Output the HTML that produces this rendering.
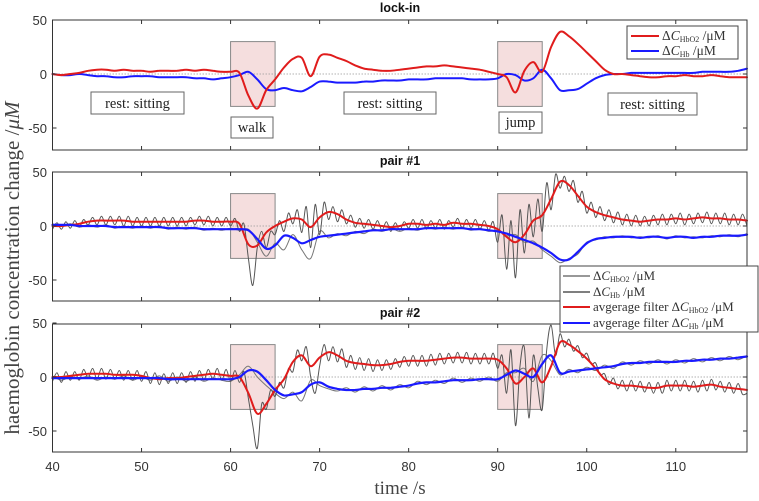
<!DOCTYPE html>
<html><head><meta charset="utf-8"><style>
html,body{margin:0;padding:0;background:#fff;}
svg{display:block;font-family:"Liberation Sans",sans-serif;}
</style></head><body>
<svg id="chart" width="759" height="501" viewBox="0 0 759 501" xmlns="http://www.w3.org/2000/svg"></svg>
<script>
const xTicks=[40,50,60,70,80,90,100,110];
const yTicks=[50,0,-50];
const tStart=40;
// lock-in, 1 s steps from 40 to 118
const lockRed=[0,-1,0,1,3,4,4,3,4,3,3,2,3,3,3,4,3,4,3,2,2,1,-20,-32,-15,-5,6,14,15,-2,16,18,15,12,8,5,4,3,3,4,5,6,7,7,8,7,6,5,4,2,0,-3,-17,3,11,2,25,39,35,28,20,12,4,0,0,-1,-2,-3,-3,-2,-2,-1,-2,-2,-1,-2,-3,-3,-3];
const lockBlue=[0,-1,-1,0,-1,-2,-2,-3,-3,-2,-2,-2,-3,-3,-3,-3,-4,-4,-5,-4,-3,-1,2,-5,-14,-15,-13,-15,-16,-12,-7,-7,-8,-8,-8,-7,-7,-6,-6,-6,-5,-5,-5,-4,-4,-4,-4,-5,-5,-5,-4,0,-1,-6,-4,4,-4,-15,-15,-14,-9,-4,-1,0,0,1,1,1,1,1,1,1,1,2,2,2,2,3,5];
// pair #1 smoothed (1 s)
const p1Red=[0,0,1,2,4,5,5,5,5,4,4,4,4,4,4,4,5,5,4,4,4,2,-17,-18,-6,0,4,7,6,-1,8,13,11,6,3,2,1,0,-1,0,2,2,1,2,1,3,2,2,1,0,-3,-10,-15,-8,5,10,25,41,38,28,18,13,10,8,6,5,4,5,6,6,7,6,7,8,7,7,6,6,5];
const p1Blue=[1,1,1,0,0,0,0,-1,-1,-1,-1,-1,-1,-2,-2,-2,-2,-3,-3,-3,-3,-3,-4,-12,-21,-18,-9,-11,-16,-13,-10,-9,-8,-7,-6,-5,-4,-4,-3,-3,-3,-3,-2,-2,-2,-2,-2,-3,-3,-4,-5,-7,-10,-13,-16,-20,-25,-31,-31,-24,-16,-12,-11,-10,-10,-10,-11,-10,-10,-11,-10,-10,-11,-10,-10,-9,-9,-9,-8];
// pair #1 raw (HbO2 0.5 s, Hb 1 s)
const p1RawO2=[-3,3,-3,4,-2,5,-1,6,1,8,1,9,1,9,1,9,0,9,0,8,0,8,0,8,0,8,0,8,0,8,0,8,1,9,1,9,0,8,0,8,0,7,-5,2,-30,-55,-20,-5,-20,-5,-8,5,-5,12,2,15,-6,18,-20,20,-8,22,6,18,4,15,2,10,-1,7,-2,6,-3,5,-4,4,-5,3,-4,4,-2,6,-2,6,-3,5,-2,6,-3,5,-1,7,-2,6,-2,6,-3,5,-4,4,-15,10,-40,5,-48,15,-25,20,-10,25,-5,40,15,48,35,46,32,42,22,32,12,22,8,18,5,15,3,13,1,11,0,10,0,9,0,10,1,11,1,11,2,12,1,11,2,12,3,13,2,12,2,12,1,11,1,11,0];
const p1RawHb=[2,0,2,-1,1,-1,1,-2,0,-2,0,-2,0,-3,-1,-3,-1,-4,-2,-4,-2,-4,-3,-15,-28,-16,-22,-8,-22,-30,-5,-11,-7,-9,-5,-7,-3,-5,-2,-5,-2,-4,-1,-3,-1,-3,-1,-4,-2,-5,-4,-9,-8,-15,-14,-22,-28,-34,-30,-26,-15,-13,-10,-11,-9,-11,-10,-11,-9,-12,-9,-11,-10,-11,-9,-10,-8,-10,-7];
// pair #2 smoothed (1 s)
const p2Red=[0,0,1,2,3,3,3,2,2,2,1,-1,-2,-1,-1,0,1,2,3,2,1,0,-15,-34,-25,-12,-2,14,20,10,18,23,20,15,13,12,11,11,12,14,15,15,15,16,17,18,18,17,17,17,16,8,-6,0,8,-5,10,32,30,24,17,8,-2,-6,-8,-8,-9,-10,-10,-8,-8,-8,-9,-8,-7,-9,-10,-11,-12];
const p2Blue=[-1,-1,-1,-1,-1,-1,-1,-1,-1,-1,-1,-1,-1,-2,-2,-2,-2,-2,-2,-2,-2,0,6,5,-3,-12,-17,-16,-14,-7,-5,-9,-11,-12,-12,-11,-11,-10,-10,-9,-8,-6,-5,-5,-4,-3,-3,-3,-2,-2,-2,2,6,3,0,12,20,4,5,6,7,8,9,10,12,13,13,14,14,14,14,15,15,16,16,17,17,18,19];
// pair #2 raw
const p2RawO2=[-4,4,-5,5,-3,5,-3,7,-1,8,-2,8,-2,7,-2,6,-3,6,-3,6,-4,5,-6,4,-7,3,-6,4,-6,4,-5,5,-4,6,-3,7,-2,8,-3,7,-4,6,-5,5,-20,-45,-66,-25,-30,-12,-18,-5,-10,8,5,25,15,28,0,-15,10,30,15,28,14,26,9,20,7,18,6,17,5,16,6,16,7,17,9,19,10,20,10,20,10,21,11,22,12,22,13,23,13,23,12,22,12,22,12,22,8,20,-15,25,-45,10,27,-38,20,-10,-30,25,48,20,40,28,35,24,29,18,22,12,13,2,3,-7,-1,-11,-3,-13,-3,-13,-4,-14,-5,-15,-5,-15,-3,-13,-3,-13,-3,-13,-4,-14,-3,-13,-2,-12,-4,-14,-5,-15,-6,-16,-15];
const p2RawHb=[1,-3,0,-2,1,-3,0,-2,1,-3,0,-3,1,-4,0,-4,0,-4,-1,-3,-4,2,10,0,-8,-15,-20,-14,-22,-3,-8,-11,-13,-10,-14,-9,-13,-8,-12,-7,-10,-4,-7,-3,-6,-1,-5,-1,-4,0,-4,4,4,8,-4,20,15,2,7,4,9,6,11,8,14,11,15,12,16,12,16,13,17,14,18,15,19,16,20];

const NS="http://www.w3.org/2000/svg";
const svg=document.getElementById('chart');
const X0=52.5,X1=747,XMIN=40,XMAX=118;
const panels=[
 {top:20,bot:150,zero:74,title:'lock-in',tname:'lockin-title',ty:12},
 {top:172,bot:301,zero:226,title:'pair #1',tname:'pair1-title',ty:165},
 {top:324,bot:452,zero:377,title:'pair #2',tname:'pair2-title',ty:317}
];
const K=1.08;
function xs(t){return X0+(t-XMIN)*(X1-X0)/(XMAX-XMIN);}
function ys(p,v){return p.zero-v*K;}
function mk(tag,attrs,parent){const e=document.createElementNS(NS,tag);for(const k in attrs)e.setAttribute(k,attrs[k]);(parent||svg).appendChild(e);return e;}
function series(p,arr,step,color,w,name,g,smooth){
  const pts=arr.map((v,i)=>[xs(tStart+i*step),ys(p,v)]);
  let d='M'+pts[0][0].toFixed(1)+' '+pts[0][1].toFixed(1);
  for(let i=1;i<pts.length;i++){
    if(smooth){
      const p0=pts[Math.max(0,i-2)],p1=pts[i-1],p2=pts[i],p3=pts[Math.min(pts.length-1,i+1)];
      const c1=[p1[0]+(p2[0]-p0[0])/6,p1[1]+(p2[1]-p0[1])/6];
      const c2=[p2[0]-(p3[0]-p1[0])/6,p2[1]-(p3[1]-p1[1])/6];
      d+='C'+c1[0].toFixed(1)+' '+c1[1].toFixed(1)+' '+c2[0].toFixed(1)+' '+c2[1].toFixed(1)+' '+p2[0].toFixed(1)+' '+p2[1].toFixed(1);
    }else d+='L'+pts[i][0].toFixed(1)+' '+pts[i][1].toFixed(1);
  }
  const e=mk('path',{d:d,fill:'none',stroke:color,'stroke-width':w,'stroke-linejoin':'round','stroke-linecap':'round'},g);
  
  
  return e;
}
panels.forEach((p,pi)=>{
  const g=mk('g',{});
  
  
  mk('rect',{x:X0,y:p.top,width:X1-X0,height:p.bot-p.top,fill:'#fff',stroke:'none'},g);
  [[60,65],[90,95]].forEach((b,bi)=>{
    const r=mk('rect',{x:xs(b[0]),y:ys(p,30),width:xs(b[1])-xs(b[0]),height:60*K,fill:'#f5dede',stroke:'#888','stroke-width':1},g);
    
    
  });
  const zl=mk('line',{x1:X0,x2:X1,y1:p.zero,y2:p.zero,stroke:'#999','stroke-width':0.8,'stroke-dasharray':'1.5 1.5'},g);
  
  
  if(pi===0){
    series(p,lockBlue,1,'#1a1aff',2,'lockin-hb-line',g,true);
    series(p,lockRed,1,'#e01c1c',2,'lockin-hbo2-line',g,true);
  }else{
    const ro=pi===1?p1RawO2:p2RawO2, rh=pi===1?p1RawHb:p2RawHb;
    series(p,rh,1,'#777',1,'raw-hb-line',g,true);
    series(p,ro,0.5,'#555',1,'raw-hbo2-line',g,true);
    series(p,pi===1?p1Red:p2Red,1,'#e01c1c',2,'filtered-hbo2-line',g,true);
    series(p,pi===1?p1Blue:p2Blue,1,'#1a1aff',2.2,'filtered-hb-line',g,true);
  }
  const fr=mk('rect',{x:X0,y:p.top,width:X1-X0,height:p.bot-p.top,fill:'none',stroke:'#333','stroke-width':1},g);
  
  
  xTicks.forEach(t=>{
    mk('line',{x1:xs(t),x2:xs(t),y1:p.top,y2:p.top+4,stroke:'#333'},g);
    mk('line',{x1:xs(t),x2:xs(t),y1:p.bot,y2:p.bot-4,stroke:'#333'},g);
    if(pi===2){
      const tl=mk('text',{x:xs(t),y:471,'text-anchor':'middle','font-size':13,fill:'#333'},g);
      tl.textContent=t;
      
      
    }
  });
  yTicks.forEach(v=>{
    mk('line',{x1:X0,x2:X0+4,y1:ys(p,v),y2:ys(p,v),stroke:'#333'},g);
    mk('line',{x1:X1,x2:X1-4,y1:ys(p,v),y2:ys(p,v),stroke:'#333'},g);
    const yl=mk('text',{x:47,y:ys(p,v)+5,'text-anchor':'end','font-size':13,fill:'#333'},g);
    yl.textContent=v;
    
    
  });
  const tt=mk('text',{x:400,y:p.ty,'text-anchor':'middle','font-size':12.5,'font-weight':'bold',fill:'#111'},g);
  tt.textContent=p.title;
  
  
});
</script>
<svg style="position:absolute;left:0;top:0" width="759" height="501" xmlns="http://www.w3.org/2000/svg">
 <g font-family="Liberation Serif, serif" font-size="14.5" fill="#222">
  <g><rect x="91" y="92" width="93" height="22" fill="#fff" stroke="#666"/><text x="137.5" y="108" text-anchor="middle">rest: sitting</text></g>
  <g><rect x="231" y="117" width="42" height="21" fill="#fff" stroke="#666"/><text x="252" y="132" text-anchor="middle">walk</text></g>
  <g><rect x="344" y="92" width="92" height="22" fill="#fff" stroke="#666"/><text x="390" y="108" text-anchor="middle">rest: sitting</text></g>
  <g><rect x="499" y="112" width="43" height="21" fill="#fff" stroke="#666"/><text x="520.5" y="127" text-anchor="middle">jump</text></g>
  <g><rect x="608" y="93" width="89" height="22" fill="#fff" stroke="#666"/><text x="652.5" y="109" text-anchor="middle">rest: sitting</text></g>
 </g>
 <g font-family="Liberation Serif, serif" font-size="13.5" fill="#333">
  <rect x="627" y="26" width="111" height="33" fill="#fff" stroke="#444"/>
  <line x1="631" x2="659" y1="36" y2="36" stroke="#e01c1c" stroke-width="2"/>
  <text x="662" y="40">Δ<tspan font-style="italic">C</tspan><tspan font-size="8" dy="2">HbO2</tspan><tspan dy="-2"> /μM</tspan></text>
  <line x1="631" x2="659" y1="51" y2="51" stroke="#1a1aff" stroke-width="2"/>
  <text x="662" y="55">Δ<tspan font-style="italic">C</tspan><tspan font-size="8" dy="2">Hb</tspan><tspan dy="-2"> /μM</tspan></text>
 </g>
 <g font-family="Liberation Serif, serif" font-size="13" fill="#333">
  <rect x="560" y="266" width="198" height="66" fill="#fff" stroke="#444"/>
  <line x1="563" x2="590" y1="276" y2="276" stroke="#777" stroke-width="1.5"/>
  <text x="593" y="280">Δ<tspan font-style="italic">C</tspan><tspan font-size="8" dy="2">HbO2</tspan><tspan dy="-2"> /μM</tspan></text>
  <line x1="563" x2="590" y1="292" y2="292" stroke="#555" stroke-width="1.5"/>
  <text x="593" y="296">Δ<tspan font-style="italic">C</tspan><tspan font-size="8" dy="2">Hb</tspan><tspan dy="-2"> /μM</tspan></text>
  <line x1="563" x2="590" y1="307" y2="307" stroke="#e01c1c" stroke-width="2"/>
  <text x="593" y="311">avgerage filter Δ<tspan font-style="italic">C</tspan><tspan font-size="8" dy="2">HbO2</tspan><tspan dy="-2"> /μM</tspan></text>
  <line x1="563" x2="590" y1="323" y2="323" stroke="#1a1aff" stroke-width="2"/>
  <text x="593" y="327">avgerage filter Δ<tspan font-style="italic">C</tspan><tspan font-size="8" dy="2">Hb</tspan><tspan dy="-2"> /μM</tspan></text>
 </g>
 <text x="400" y="494" text-anchor="middle" font-family="Liberation Serif, serif" font-size="19" fill="#444">time /s</text>
 <text transform="translate(19,268) rotate(-90)" text-anchor="middle" font-family="Liberation Serif, serif" font-size="21" fill="#444">haemoglobin concentration change /<tspan font-style="italic">μM</tspan></text>
</svg>
</body></html>
